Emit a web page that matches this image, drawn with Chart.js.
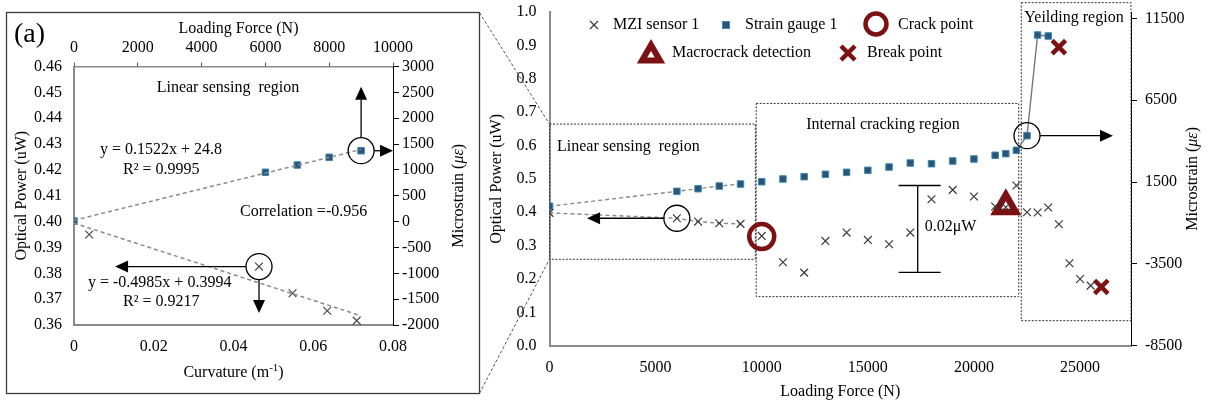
<!DOCTYPE html>
<html>
<head>
<meta charset="utf-8">
<script src="https://cdn.jsdelivr.net/npm/chart.js@4.4.1/dist/chart.umd.min.js"></script>
<style>
  html, body { margin: 0; padding: 0; background: #fff; }
  #wrap { position: relative; width: 1208px; height: 407px; }
  canvas { position: absolute; left: 0; top: 0; }
</style>
</head>
<body>
<div id="wrap">
  <canvas id="left" width="1208" height="407"></canvas>
  <canvas id="right" width="1208" height="407"></canvas>
</div>
<script>
// ---- right panel: loading test ----
var forceMZI = [0, 6000, 7000, 8000, 9000, 10000, 11000, 12000, 13000, 14000, 15000, 16000, 17000,
                18000, 19000, 20000, 21000, 21500, 22000, 22500, 23000, 23500, 24000, 24500, 25000, 25500];
var powerMZI = [0.398, 0.382, 0.372, 0.367, 0.365, 0.329, 0.250, 0.219, 0.314, 0.339, 0.317, 0.304, 0.339,
                0.439, 0.467, 0.447, 0.417, 0.415, 0.480, 0.400, 0.399, 0.414, 0.364, 0.247, 0.200, 0.180];
var forceSG = [0, 6000, 7000, 8000, 9000, 10000, 11000, 12000, 13000, 14000, 15000, 16000, 17000,
               18000, 19000, 20000, 21000, 21500, 22000, 22500, 23000, 23500];
var strainSG = [20, 930, 1090, 1255, 1375, 1518, 1683, 1824, 1968, 2090, 2212, 2416, 2660,
                2618, 2782, 2905, 3130, 3230, 3437, 4330, 10480, 10420];
var crackForce = [10000];
var crackPower = [0.327];
var macroForce = [21500];
var macroPower = [0.418];
var breakForce = [26000];          // MZI break
var breakPower = [0.176];
var breakForceSG = [24000];        // strain gauge break
var breakStrainSG = [9740];
var forceTicks = [0, 5000, 10000, 15000, 20000, 25000];
var strainTicks = [-8500, -3500, 1500, 6500, 11500];

// ---- left panel (a): linear sensing region ----
var curvA = [0.0038, 0.0464, 0.0548, 0.0635, 0.0709];
var powerA = [0.395, 0.3826, 0.3723, 0.3655, 0.3617];
var forceA = [0, 6000, 7000, 8000, 9000];
var strainA = [10, 954, 1095, 1244, 1371];
var trendForce = [0, 9000];
var trendStrain = [25, 1395];
var trendCurv = [0, 0.0715];
var trendPower = [0.3994, 0.3638];

var SERIF = '"Liberation Serif", "Times New Roman", serif';
Chart.defaults.font.family = SERIF;
Chart.defaults.font.size = 16;
Chart.defaults.color = '#000';

var DARKRED = '#7b1113';
var SQ_FILL = '#2b5673';
var SQ_EDGE = '#3f88b8';
var AXGRAY = '#8a8a8a';
var NONE = 'rgba(0,0,0,0)';

function pts(xs, ys) {
    return xs.map(function(x, i) { return {x: x, y: ys[i]}; });
}
// fixed axis sizes so the plot areas land where the original has them
function fixW(w) { return function(s) { s.width = w; s.paddingTop = 0; s.paddingBottom = 0; }; }
function fixH(h) { return function(s) { s.height = h; s.paddingLeft = 0; s.paddingRight = 0; }; }
function setTicks(vals) {
    return function(s) { s.ticks = vals.map(function(v) { return {value: v}; }); };
}
function plain(v) { return String(v); }

function txt(ctx, s, x, y, align, size, style) {
    ctx.font = (style || '') + ' ' + (size || 16) + 'px ' + SERIF;
    ctx.textAlign = align || 'left';
    ctx.textBaseline = 'middle';
    ctx.fillStyle = '#000';
    ctx.fillText(s, x, y);
}
// pieces: [[text, fontStyle]], centered on cx,cy, optionally rotated
function parts(ctx, pieces, cx, cy, rotate) {
    ctx.save();
    ctx.translate(cx, cy);
    if (rotate) ctx.rotate(-Math.PI / 2);
    var w = 0;
    pieces.forEach(function(p) { ctx.font = p[1] + 'px ' + SERIF; w += ctx.measureText(p[0]).width; });
    var x = -w / 2;
    ctx.textBaseline = 'middle';
    ctx.textAlign = 'left';
    ctx.fillStyle = '#000';
    pieces.forEach(function(p) {
        ctx.font = p[1] + 'px ' + SERIF;
        ctx.fillText(p[0], x, p[2] || 0);
        x += ctx.measureText(p[0]).width;
    });
    ctx.restore();
}
function arrow(ctx, x0, y0, x1, y1) {
    var ang = Math.atan2(y1 - y0, x1 - x0), L = 13, H = 6;
    ctx.beginPath();
    ctx.moveTo(x0, y0);
    ctx.lineTo(x1 - Math.cos(ang) * L, y1 - Math.sin(ang) * L);
    ctx.stroke();
    ctx.beginPath();
    ctx.moveTo(x1, y1);
    ctx.lineTo(x1 - Math.cos(ang) * L - Math.sin(ang) * H, y1 - Math.sin(ang) * L + Math.cos(ang) * H);
    ctx.lineTo(x1 - Math.cos(ang) * L + Math.sin(ang) * H, y1 - Math.sin(ang) * L - Math.cos(ang) * H);
    ctx.closePath();
    ctx.fill();
}
function ring(ctx, x, y, r) {
    ctx.beginPath();
    ctx.arc(x, y, r, 0, Math.PI * 2);
    ctx.stroke();
}

// ---------------- left chart ----------------
var leftDeco = {
    id: 'leftDeco',
    afterDraw: function(chart) {
        var ctx = chart.ctx, xb = chart.scales.x, xt = chart.scales.xt,
            yl = chart.scales.y, yr = chart.scales.yr, a = chart.chartArea;
        ctx.save();
        ctx.strokeStyle = '#3c3c3c';
        ctx.lineWidth = 1.3;
        ctx.strokeRect(6.5, 12.5, 473, 381);

        txt(ctx, '(a)', 14, 35, 'left', 28);
        txt(ctx, 'Loading Force (N)', (a.left + a.right) / 2 + 5, 29, 'center');
        parts(ctx, [['Curvature (m', 16], ['-1', 11, -5], [')', 16]], (a.left + a.right) / 2, 373);
        parts(ctx, [['Optical Power (uW)', 16]], 22, (a.top + a.bottom) / 2, true);
        parts(ctx, [['Microstrain (', 16], ['\u03bc\u03b5', 'italic 16'], [')', 16]], 459, (a.top + a.bottom) / 2, true);

        txt(ctx, 'Linear sensing  region', 228, 88, 'center');
        txt(ctx, 'y = 0.1522x + 24.8', 100, 150);
        txt(ctx, 'R\u00b2 = 0.9995', 123, 170);
        txt(ctx, 'Correlation =-0.956', 240, 212);
        txt(ctx, 'y = -0.4985x + 0.3994', 88, 283);
        txt(ctx, 'R\u00b2 = 0.9217', 123, 302);

        ctx.strokeStyle = '#000';
        ctx.fillStyle = '#000';
        ctx.lineWidth = 1.3;
        var cx = xt.getPixelForValue(forceA[4]), cy = yr.getPixelForValue(strainA[4]);
        ring(ctx, cx, cy, 13);
        arrow(ctx, cx, cy - 13, cx, yr.getPixelForValue(2610));
        arrow(ctx, cx + 13, cy, a.right, cy);
        cx = xb.getPixelForValue(curvA[1]); cy = yl.getPixelForValue(powerA[1]);
        ring(ctx, cx, cy, 13);
        arrow(ctx, cx - 13, cy, xb.getPixelForValue(0.0103), cy);
        arrow(ctx, cx, cy + 13, cx, yl.getPixelForValue(0.3646));
        ctx.restore();
    }
};

new Chart(document.getElementById('left'), {
    type: 'scatter',
    data: {
        datasets: [{
            label: 'Strain trend', data: pts(trendForce, trendStrain), xAxisID: 'xt', yAxisID: 'yr',
            showLine: true, pointRadius: 0, borderColor: '#8a8a8a', borderWidth: 1.5, borderDash: [4, 3]
        }, {
            label: 'MZI trend', data: pts(trendCurv, trendPower), xAxisID: 'x', yAxisID: 'y',
            showLine: true, pointRadius: 0, borderColor: '#8a8a8a', borderWidth: 1.5, borderDash: [4, 3]
        }, {
            label: 'Strain gauge 1', data: pts(forceA, strainA), xAxisID: 'xt', yAxisID: 'yr',
            pointStyle: 'rect', pointRadius: 4.6, pointBackgroundColor: SQ_FILL,
            pointBorderColor: SQ_EDGE, pointBorderWidth: 1
        }, {
            label: 'MZI sensor 1', data: pts(curvA, powerA), xAxisID: 'x', yAxisID: 'y',
            pointStyle: 'crossRot', pointRadius: 5.5, pointBorderColor: '#4a4a4a', pointBorderWidth: 1.2
        }]
    },
    options: {
        responsive: false,
        animation: false,
        events: [],
        layout: {autoPadding: false, padding: {left: 0, right: 728, top: 0, bottom: 0}},
        plugins: {legend: {display: false}, tooltip: {enabled: false}},
        scales: {
            x: {
                type: 'linear', position: 'bottom', min: 0, max: 0.08,
                ticks: {stepSize: 0.02, padding: 12},
                grid: {display: false, drawTicks: false},
                border: {color: AXGRAY, width: 2},
                afterFit: fixH(82)
            },
            xt: {
                axis: 'x', type: 'linear', position: 'top', min: 0, max: 10000,
                ticks: {stepSize: 2000, padding: 5, callback: plain},
                grid: {drawOnChartArea: false, drawTicks: true, tickLength: 4, color: '#555'},
                border: {color: AXGRAY, width: 1.5},
                afterFit: fixH(66.5)
            },
            y: {
                type: 'linear', position: 'left', min: 0.36, max: 0.46,
                ticks: {stepSize: 0.01, padding: 12, callback: function(v) { return v.toFixed(2); }},
                grid: {display: false, drawTicks: false},
                border: {color: AXGRAY, width: 2},
                afterFit: fixW(74)
            },
            yr: {
                axis: 'y', type: 'linear', position: 'right', min: -2000, max: 3000,
                ticks: {stepSize: 500, padding: 3, callback: plain},
                grid: {drawOnChartArea: false, drawTicks: true, tickLength: 6, color: '#000'},
                border: {color: '#000', width: 1},
                afterFit: fixW(87)
            }
        }
    },
    plugins: [leftDeco]
});

// ---------------- right chart ----------------
var rightDeco = {
    id: 'rightDeco',
    beforeDatasetsDraw: function(chart) {
        var ctx = chart.ctx, x = chart.scales.x, y = chart.scales.y, a = chart.chartArea;
        function box(f0, p0, f1, p1) {
            var l = x.getPixelForValue(f0), t = y.getPixelForValue(p0);
            var r = f1 === null ? a.right : x.getPixelForValue(f1), b = y.getPixelForValue(p1);
            ctx.strokeRect(l, t, r - l, b - t);
        }
        ctx.save();
        ctx.strokeStyle = '#333';
        ctx.lineWidth = 1;
        ctx.setLineDash([2, 1.5]);
        box(0, 0.664, 9700, 0.259);
        box(9740, 0.726, 22110, 0.147);
        box(22230, 1.028, null, 0.075);
        // connectors to panel (a)
        ctx.strokeStyle = '#555';
        ctx.setLineDash([3, 2]);
        ctx.beginPath();
        ctx.moveTo(479.5, 12.7); ctx.lineTo(x.getPixelForValue(0), y.getPixelForValue(0.664));
        ctx.moveTo(479.5, 393.3); ctx.lineTo(x.getPixelForValue(0), y.getPixelForValue(0.259));
        ctx.stroke();
        ctx.restore();
    },
    afterDraw: function(chart) {
        var ctx = chart.ctx, x = chart.scales.x, y = chart.scales.y, y2 = chart.scales.y2, a = chart.chartArea;
        ctx.save();
        // axis titles
        parts(ctx, [['Optical Power (uW)', 16]], 497, (a.top + a.bottom) / 2, true);
        parts(ctx, [['Microstrain (', 16], ['\u03bc\u03b5', 'italic 16'], [')', 16]], 1193, (a.top + a.bottom) / 2, true);
        txt(ctx, 'Loading Force (N)', (a.left + a.right) / 2, 392, 'center');

        // region labels
        txt(ctx, 'Linear sensing  region', 557, 147);
        txt(ctx, 'Internal cracking region', 883, 125, 'center');
        txt(ctx, 'Yeilding region', 1074, 18, 'center');

        // legend
        ctx.strokeStyle = '#3a3a3a'; ctx.lineWidth = 1.2;
        ctx.beginPath();
        ctx.moveTo(590, 21); ctx.lineTo(598, 29); ctx.moveTo(598, 21); ctx.lineTo(590, 29);
        ctx.stroke();
        txt(ctx, 'MZI sensor 1', 613, 25);
        ctx.fillStyle = SQ_FILL; ctx.strokeStyle = SQ_EDGE; ctx.lineWidth = 1;
        ctx.fillRect(722.5, 21.5, 7, 7); ctx.strokeRect(722.5, 21.5, 7, 7);
        txt(ctx, 'Strain gauge 1', 745, 25);
        ctx.strokeStyle = DARKRED; ctx.lineWidth = 4.5;
        ring(ctx, 876, 24, 10.5);
        txt(ctx, 'Crack point', 898, 25);
        ctx.lineWidth = 6; ctx.fillStyle = '#fff'; ctx.lineJoin = 'miter';
        ctx.beginPath();
        ctx.moveTo(651, 45); ctx.lineTo(660, 60.5); ctx.lineTo(642, 60.5); ctx.closePath();
        ctx.fill(); ctx.stroke();
        txt(ctx, 'Macrocrack detection', 672, 53);
        ctx.lineWidth = 4.5;
        ctx.beginPath();
        ctx.moveTo(841, 46); ctx.lineTo(855, 60); ctx.moveTo(855, 46); ctx.lineTo(841, 60);
        ctx.stroke();
        txt(ctx, 'Break point', 867, 53);

        // circles and arrows
        ctx.strokeStyle = '#000'; ctx.fillStyle = '#000'; ctx.lineWidth = 1.3;
        var cx = x.getPixelForValue(forceMZI[1]), cy = y.getPixelForValue(powerMZI[1]);
        ring(ctx, cx, cy, 13);
        arrow(ctx, cx - 13, cy, x.getPixelForValue(1770), cy);
        cx = x.getPixelForValue(forceSG[19]); cy = y2.getPixelForValue(strainSG[19]);
        ring(ctx, cx, cy, 13);
        arrow(ctx, cx + 13, cy, x.getPixelForValue(26550), cy);

        // 0.02uW scale bar
        var bx = x.getPixelForValue(17350), bt = y.getPixelForValue(0.48), bb = y.getPixelForValue(0.22);
        ctx.beginPath();
        ctx.moveTo(bx, bt); ctx.lineTo(bx, bb);
        ctx.moveTo(x.getPixelForValue(16450), bt); ctx.lineTo(x.getPixelForValue(18430), bt);
        ctx.moveTo(x.getPixelForValue(16450), bb); ctx.lineTo(x.getPixelForValue(18430), bb);
        ctx.stroke();
        txt(ctx, '0.02\u03bcW', bx + 7, y.getPixelForValue(0.356));
        ctx.restore();
    }
};

new Chart(document.getElementById('right'), {
    type: 'scatter',
    data: {
        datasets: [{
            label: 'MZI sensor 1', data: pts(forceMZI, powerMZI), yAxisID: 'y', order: 0,
            pointStyle: 'crossRot', pointRadius: 5.5, pointBorderColor: '#3a3a3a', pointBorderWidth: 1.2,
            showLine: true, borderWidth: 1.4, borderColor: '#8a8a8a',
            segment: {
                borderColor: function(c) { return c.p1.parsed.x <= 9000 ? '#8a8a8a' : NONE; },
                borderDash: function() { return [4, 3]; }
            }
        }, {
            label: 'Strain gauge 1', data: pts(forceSG, strainSG), yAxisID: 'y2', order: 1,
            pointStyle: 'rect', pointRadius: 4.6, pointBackgroundColor: SQ_FILL,
            pointBorderColor: SQ_EDGE, pointBorderWidth: 1,
            showLine: true, borderWidth: 1.4, borderColor: '#8a8a8a',
            segment: {
                borderColor: function(c) {
                    if (c.p1.parsed.x <= 9000) return '#8a8a8a';
                    if (c.p0.parsed.x >= 22000) return '#777';
                    return NONE;
                },
                borderDash: function(c) { return c.p1.parsed.x <= 9000 ? [4, 3] : []; }
            }
        }, {
            label: 'Crack point', data: pts(crackForce, crackPower), yAxisID: 'y', order: 2,
            pointStyle: 'circle', pointRadius: 12.5, pointBorderWidth: 4.5,
            pointBorderColor: DARKRED, pointBackgroundColor: NONE
        }, {
            label: 'Macrocrack detection', data: pts(macroForce, macroPower), yAxisID: 'y', order: 3,
            pointStyle: 'triangle', pointRadius: 11.5, pointBorderWidth: 6.5,
            pointBorderColor: DARKRED, pointBackgroundColor: '#fff'
        }, {
            label: 'Break point', data: pts(breakForce, breakPower), yAxisID: 'y', order: 4,
            pointStyle: 'crossRot', pointRadius: 9.5, pointBorderWidth: 4.5,
            pointBorderColor: DARKRED
        }, {
            label: 'Break point (strain gauge)', data: pts(breakForceSG, breakStrainSG), yAxisID: 'y2', order: 5,
            pointStyle: 'crossRot', pointRadius: 9.5, pointBorderWidth: 4.5,
            pointBorderColor: DARKRED
        }]
    },
    options: {
        responsive: false,
        animation: false,
        events: [],
        layout: {autoPadding: false, padding: {left: 480, right: 0, top: 12, bottom: 0}},
        plugins: {legend: {display: false}, tooltip: {enabled: false}},
        scales: {
            x: {
                type: 'linear', position: 'bottom', min: 0, max: 27400,
                ticks: {padding: 12, callback: plain},
                afterBuildTicks: setTicks(forceTicks),
                grid: {display: false, drawTicks: false},
                border: {color: AXGRAY, width: 2},
                afterFit: fixH(61.3)
            },
            y: {
                type: 'linear', position: 'left', min: 0, max: 1,
                ticks: {stepSize: 0.1, padding: 13, callback: function(v) { return v.toFixed(1); }},
                grid: {display: false, drawTicks: false},
                border: {color: AXGRAY, width: 2},
                afterFit: fixW(69.5)
            },
            y2: {
                axis: 'y', type: 'linear', position: 'right', min: -8500, max: 11885,
                ticks: {padding: 8, callback: plain},
                afterBuildTicks: setTicks(strainTicks),
                grid: {drawOnChartArea: false, drawTicks: true, tickLength: 6, color: '#000'},
                border: {color: '#000', width: 1},
                afterFit: fixW(77)
            }
        }
    },
    plugins: [rightDeco]
});
</script>
</body>
</html>
